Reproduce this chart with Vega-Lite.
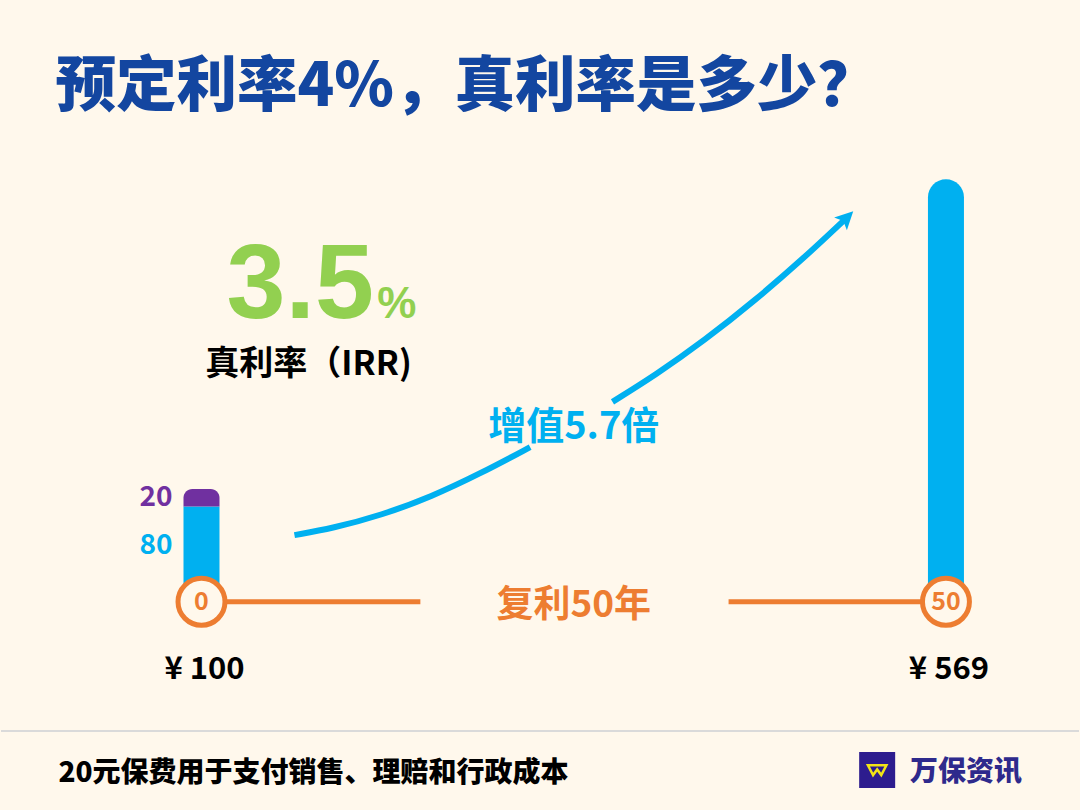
{
  "$schema": "https://vega.github.io/schema/vega-lite/v6.json",
  "width": 1080,
  "height": 810,
  "autosize": {"type": "fit", "contains": "padding"},
  "padding": 0,
  "background": "#FFF8EC",
  "config": {
    "view": {"stroke": null},
    "text": {"font": "Noto Sans CJK SC", "fontWeight": "bold", "baseline": "alphabetic"}
  },
  "datasets": {
    "bars": [
      {"year": 0, "component": "投入本金", "amount": 80},
      {"year": 0, "component": "费用", "amount": 20},
      {"year": 50, "component": "投入本金", "amount": 569}
    ]
  },
  "layer": [
    {
      "data": {"values": [{"from": 0, "to": 14.7}, {"from": 35.4, "to": 50}]},
      "mark": {"type": "rule", "color": "#ED7D31", "strokeWidth": 5},
      "encoding": {
        "x": {"field": "from", "type": "quantitative", "scale": {"domain": [-13.13, 58.6], "nice": false, "zero": false}, "axis": null},
        "x2": {"field": "to"},
        "y": {"datum": 0, "type": "quantitative", "scale": {"type": "pow", "exponent": 0.76, "domain": [-224.2, 905.8], "nice": false, "zero": false}, "axis": null}
      }
    },
    {
      "data": {"name": "bars"},
      "transform": [
        {"stack": "amount", "groupby": ["year"], "sort": [{"field": "component", "order": "ascending"}], "as": ["y0", "y1"]},
        {"joinaggregate": [{"op": "max", "field": "y1", "as": "top"}], "groupby": ["year"]},
        {"filter": "datum.y1 < datum.top"}
      ],
      "mark": {"type": "bar", "width": 36},
      "encoding": {
        "x": {"field": "year", "type": "quantitative", "axis": null},
        "y": {"field": "y0", "type": "quantitative", "axis": null},
        "y2": {"field": "y1"},
        "color": {"field": "component", "type": "nominal", "scale": {"domain": ["投入本金", "费用"], "range": ["#00B0F0", "#7030A0"]}, "legend": null}
      }
    },
    {
      "data": {"name": "bars"},
      "transform": [
        {"stack": "amount", "groupby": ["year"], "sort": [{"field": "component", "order": "ascending"}], "as": ["y0", "y1"]},
        {"joinaggregate": [{"op": "max", "field": "y1", "as": "top"}], "groupby": ["year"]},
        {"filter": "datum.y1 == datum.top"}
      ],
      "mark": {"type": "bar", "width": 36, "cornerRadiusTopLeft": 18, "cornerRadiusTopRight": 18},
      "encoding": {
        "x": {"field": "year", "type": "quantitative", "axis": null},
        "y": {"field": "y0", "type": "quantitative", "axis": null},
        "y2": {"field": "y1"},
        "color": {"field": "component", "type": "nominal", "legend": null}
      }
    },
    {
      "data": {"values": [
        {"seg": "a", "year": 6.243, "amount": 50.1},
        {"seg": "a", "year": 8.787, "amount": 56.83},
        {"seg": "a", "year": 12.108, "amount": 70.75},
        {"seg": "a", "year": 15.429, "amount": 91.02},
        {"seg": "a", "year": 18.75, "amount": 118.6},
        {"seg": "a", "year": 22.071, "amount": 151.5},
        {"seg": "b", "year": 27.604, "amount": 212.5},
        {"seg": "b", "year": 30.487, "amount": 250.6},
        {"seg": "b", "year": 33.807, "amount": 302.7},
        {"seg": "b", "year": 37.128, "amount": 363.6},
        {"seg": "b", "year": 40.449, "amount": 433.3},
        {"seg": "b", "year": 43.239, "amount": 499.3}
      ]},
      "mark": {"type": "line", "color": "#00B0F0", "strokeWidth": 6, "interpolate": "basis", "strokeCap": "butt"},
      "encoding": {
        "x": {"field": "year", "type": "quantitative", "axis": null},
        "y": {"field": "amount", "type": "quantitative", "axis": null},
        "detail": {"field": "seg"}
      }
    },
    {
      "data": {"values": [{"year": 43.239, "amount": 499.3}]},
      "mark": {"type": "point", "shape": "M0,-1L0.8,0.6L0,0.25L-0.8,0.6Z", "filled": true, "color": "#00B0F0", "opacity": 1, "size": 506, "angle": 45},
      "encoding": {
        "x": {"field": "year", "type": "quantitative", "axis": null},
        "y": {"field": "amount", "type": "quantitative", "axis": null}
      }
    },
    {
      "data": {"values": [{"year": 0, "label": "0"}, {"year": 50, "label": "50"}]},
      "mark": {"type": "point", "shape": "circle", "filled": true, "fill": "#FFF8EC", "stroke": "#ED7D31", "strokeWidth": 5, "size": 2206, "opacity": 1},
      "encoding": {
        "x": {"field": "year", "type": "quantitative", "axis": null},
        "y": {"datum": 0, "type": "quantitative", "axis": null}
      }
    },
    {
      "data": {"values": [{"year": 0, "label": "0"}, {"year": 50, "label": "50"}]},
      "mark": {"type": "text", "fontSize": 25, "color": "#ED7D31", "baseline": "middle", "align": "center"},
      "encoding": {
        "x": {"field": "year", "type": "quantitative", "axis": null},
        "y": {"datum": 0, "type": "quantitative", "axis": null},
        "text": {"field": "label"}
      }
    },
    {
      "data": {"name": "bars"},
      "transform": [
        {"stack": "amount", "groupby": ["year"], "sort": [{"field": "component", "order": "ascending"}], "as": ["y0", "y1"]},
        {"calculate": "(datum.y0 + datum.y1) / 2", "as": "mid"},
        {"filter": "datum.year == 0"}
      ],
      "mark": {"type": "text", "fontSize": 28, "align": "right", "baseline": "middle", "dx": -29},
      "encoding": {
        "x": {"field": "year", "type": "quantitative", "axis": null},
        "y": {"field": "mid", "type": "quantitative", "axis": null},
        "text": {"field": "amount"},
        "color": {"field": "component", "type": "nominal", "legend": null}
      }
    },
    {
      "data": {"name": "bars"},
      "transform": [
        {"aggregate": [{"op": "sum", "field": "amount", "as": "total"}], "groupby": ["year"]},
        {"calculate": "'¥ ' + datum.total", "as": "label"}
      ],
      "mark": {"type": "text", "fontSize": 31, "align": "center", "color": "#000000", "dy": 77, "dx": 3},
      "encoding": {
        "x": {"field": "year", "type": "quantitative", "axis": null},
        "y": {"datum": 0, "type": "quantitative", "axis": null},
        "text": {"field": "label"}
      }
    },
    {
      "data": {"values": [{"text": "预定利率4%，真利率是多少？", "year": -9.81, "amount": 701.3}]},
      "mark": {"type": "text", "fontSize": 60.5, "fontWeight": 900, "align": "left", "color": "#1346A0"},
      "encoding": {
        "x": {"field": "year", "type": "quantitative", "axis": null},
        "y": {"field": "amount", "type": "quantitative", "axis": null},
        "text": {"field": "text"}
      }
    },
    {
      "data": {"values": [{"text": "3.5", "year": 11.58, "amount": 336.7}]},
      "mark": {"type": "text", "font": "Liberation Sans", "fontSize": 106, "align": "right", "color": "#92D050"},
      "encoding": {
        "x": {"field": "year", "type": "quantitative", "axis": null},
        "y": {"field": "amount", "type": "quantitative", "axis": null},
        "text": {"field": "text"}
      }
    },
    {
      "data": {"values": [{"text": "%", "year": 11.8, "amount": 336.7}]},
      "mark": {"type": "text", "font": "Liberation Sans", "fontSize": 44, "align": "left", "color": "#92D050"},
      "encoding": {
        "x": {"field": "year", "type": "quantitative", "axis": null},
        "y": {"field": "amount", "type": "quantitative", "axis": null},
        "text": {"field": "text"}
      }
    },
    {
      "data": {"values": [{"text": "真利率（IRR)", "year": 7.19, "amount": 250.7}]},
      "mark": {"type": "text", "fontSize": 34, "align": "center", "color": "#000000"},
      "encoding": {
        "x": {"field": "year", "type": "quantitative", "axis": null},
        "y": {"field": "amount", "type": "quantitative", "axis": null},
        "text": {"field": "text"}
      }
    },
    {
      "data": {"values": [{"text": "增值5.7倍", "year": 25, "amount": 162.3}]},
      "mark": {"type": "text", "fontSize": 38, "align": "center", "color": "#00B0F0"},
      "encoding": {
        "x": {"field": "year", "type": "quantitative", "axis": null},
        "y": {"field": "amount", "type": "quantitative", "axis": null},
        "text": {"field": "text"}
      }
    },
    {
      "data": {"values": [{"text": "复利50年", "year": 25, "amount": -7.22}]},
      "mark": {"type": "text", "fontSize": 37, "align": "center", "color": "#ED7D31"},
      "encoding": {
        "x": {"field": "year", "type": "quantitative", "axis": null},
        "y": {"field": "amount", "type": "quantitative", "axis": null},
        "text": {"field": "text"}
      }
    },
    {
      "data": {"values": [{"amount": -119.7}]},
      "mark": {"type": "rule", "color": "#DADADA", "strokeWidth": 2},
      "encoding": {
        "y": {"field": "amount", "type": "quantitative", "axis": null}
      }
    },
    {
      "data": {"values": [{"text": "20元保费用于支付销售、理赔和行政成本", "year": -9.61, "amount": -185.4}]},
      "mark": {"type": "text", "fontSize": 28, "fontWeight": 900, "align": "left", "color": "#000000"},
      "encoding": {
        "x": {"field": "year", "type": "quantitative", "axis": null},
        "y": {"field": "amount", "type": "quantitative", "axis": null},
        "text": {"field": "text"}
      }
    },
    {
      "data": {"values": [{"year": 45.38, "amount": -169.3}]},
      "mark": {"type": "point", "shape": "square", "filled": true, "color": "#2D1C8E", "opacity": 1, "size": 1296},
      "encoding": {
        "x": {"field": "year", "type": "quantitative", "axis": null},
        "y": {"field": "amount", "type": "quantitative", "axis": null}
      }
    },
    {
      "data": {"values": [{"year": 45.38, "amount": -169.3}]},
      "mark": {"type": "point", "shape": "M-0.9,-0.45L0.9,-0.45L0.4,0.5L0,-0.05L-0.4,0.5Z", "filled": false, "color": "#F2E416", "strokeWidth": 2.5, "opacity": 1, "size": 420},
      "encoding": {
        "x": {"field": "year", "type": "quantitative", "axis": null},
        "y": {"field": "amount", "type": "quantitative", "axis": null}
      }
    },
    {
      "data": {"values": [{"text": "万保资讯", "year": 47.58, "amount": -184.1}]},
      "mark": {"type": "text", "fontSize": 28, "fontWeight": 900, "align": "left", "color": "#2E2A8C"},
      "encoding": {
        "x": {"field": "year", "type": "quantitative", "axis": null},
        "y": {"field": "amount", "type": "quantitative", "axis": null},
        "text": {"field": "text"}
      }
    }
  ]
}
